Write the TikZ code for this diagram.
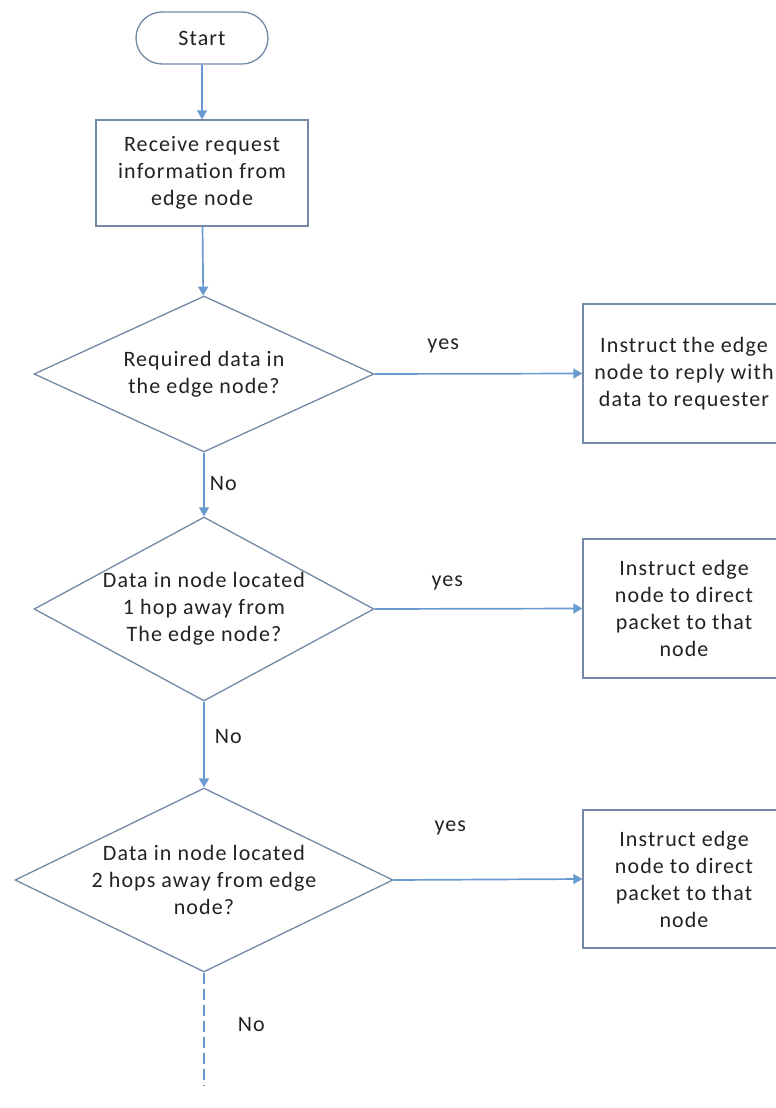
\documentclass[tikz,border=0pt]{standalone}
\usepackage{fontspec}
\setmainfont{Carlito}[LetterSpace=5]
\usetikzlibrary{shapes.geometric,shapes.misc,arrows.meta}
\definecolor{linkblue}{HTML}{6A9BD0}
\definecolor{frame}{HTML}{7389A6}
\definecolor{ink}{HTML}{222222}
\tikzset{
  x=1pt, y=-1pt,
  base/.style={draw=frame, line width=1.3pt, fill=white, text=ink,
    font=\fontsize{22}{27}\selectfont, align=center, inner sep=0pt},
  term/.style={base, rounded rectangle, minimum width=132pt, minimum height=52pt},
  proc/.style={base, rectangle},
  decision/.style={base, diamond, minimum width=340pt, minimum height=184pt},
  txt/.style={text=ink, font=\fontsize{22}{27}\selectfont, align=center, inner sep=0pt},
  flow/.style={draw=linkblue, line width=1.7pt, -{Triangle[width=10pt,length=9pt]}},
  lbl/.style={text=ink, font=\fontsize{22}{27}\selectfont, inner sep=0pt},
}
\begin{document}
\begin{tikzpicture}
\useasboundingbox (0,0) rectangle (776,1108);
\clip (0,0) rectangle (776,1108);

% main column
\node[term] (start) at (202,38) {Start};
\node[proc, minimum width=212pt, minimum height=106pt] (recv) at (202,173)
  {Receive request\\information from\\edge node};

\node[decision, minimum width=340pt, minimum height=156pt] (d1) at (204,374) {};
\node[txt] (t1) at (d1.center) {Required data in\\the edge node?};

\node[decision] (d2) at (204,609) {};
\node[txt] (t2) at (d2.center) {Data in node located\\1 hop away from\\The edge node?};

\node[decision, minimum width=378pt] (d3) at (204,880) {};
\node[txt] (t3) at (d3.center) {Data in node located\\2 hops away from edge\\node?};

% action boxes on the right
\node[proc, minimum width=202pt, minimum height=139pt] (b1) at (684,373.5)
  {Instruct the edge\\node to reply with\\data to requester};
\node[proc, minimum width=202pt, minimum height=139pt] (b2) at (684,608.5)
  {Instruct edge\\node to direct\\packet to that\\node};
\node[proc, minimum width=202pt, minimum height=138pt] (b3) at (684,879)
  {Instruct edge\\node to direct\\packet to that\\node};

\coordinate (more) at (204,1086);

% connectors
\draw[flow] (start) -- (recv);
\draw[flow] (recv) -- (d1);
\draw[flow] (d1.south) -- node[lbl, pos=0.48, anchor=west, xshift=5pt] {No} (d2.north);
\draw[flow] (d2.south) -- node[lbl, pos=0.41, anchor=west, xshift=10pt] {No} (d3.north);
\draw[linkblue, line width=1.7pt, dash pattern=on 11pt off 5pt] (d3.south) --
  node[lbl, pos=0.46, anchor=west, xshift=33pt] {No} (more);

\draw[flow] (d1.east) -- node[lbl, pos=0.33, yshift=28pt] {yes} (b1.west);
\draw[flow] (d2.east) -- node[lbl, pos=0.35, yshift=26pt] {yes} (b2.west);
\draw[flow] (d3.east) -- node[lbl, pos=0.30, yshift=52pt] {yes} (b3.west);
\end{tikzpicture}
\end{document}
